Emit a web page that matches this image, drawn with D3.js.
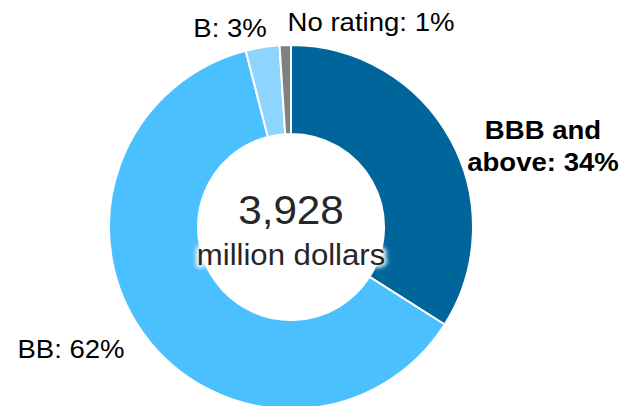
<!DOCTYPE html>
<html>
<head>
<meta charset="utf-8">
<script src="https://cdn.jsdelivr.net/npm/d3@7"></script>
<style>
  html, body { margin: 0; padding: 0; background: #fff; }
  svg { display: block; }
</style>
</head>
<body>
<svg id="chart" width="627" height="406"></svg>
<script>
// Rating breakdown of the portfolio (share of total, %)
const categories = ["BBB and above", "BB", "B", "No rating"];
const shares = [34, 62, 3, 1];
const colors = ["#00659B", "#4BC0FF", "#8DD4FF", "#808080"];
const totalLabel = "3,928";
const unitLabel = "million dollars";

const W = 627, H = 406;
const cx = 291, cy = 227;
const outerR = 182, innerR = 93;
const stretch = 1.06; // horizontal widening of the label type

const svg = d3.select("#chart");

// Soft white halo used behind the unit text where it overlaps the ring
const defs = svg.append("defs");
const glow = defs.append("filter").attr("id", "halo")
  .attr("x", "-20%").attr("y", "-40%").attr("width", "140%").attr("height", "180%");
glow.append("feGaussianBlur").attr("stdDeviation", 2);

const pie = d3.pie().sort(null).value(d => d.value);
const arc = d3.arc().innerRadius(innerR).outerRadius(outerR);

const data = categories.map((c, i) => ({ name: c, value: shares[i], color: colors[i] }));

const g = svg.append("g").attr("transform", `translate(${cx},${cy})`);
g.selectAll("path.slice")
  .data(pie(data))
  .join("path")
  .attr("class", "slice")
  .attr("d", arc)
  .attr("fill", d => d.data.color)
  .attr("stroke", "#fff")
  .attr("stroke-width", 2)
  .attr("stroke-linejoin", "round");

// Labels: text per slice, placed around the ring
const labelLayout = [
  { lines: ["BBB and", "above: " + shares[0] + "%"], x: 543, y: 139, bold: true, lh: 32 },
  { lines: ["BB: " + shares[1] + "%"], x: 71, y: 358 },
  { lines: ["B: " + shares[2] + "%"], x: 230, y: 37 },
  { lines: ["No rating: " + shares[3] + "%"], x: 371, y: 31 }
];

labelLayout.forEach(l => {
  const t = svg.append("text")
    .attr("transform", `translate(${l.x},${l.y}) scale(${stretch},1)`)
    .attr("text-anchor", "middle")
    .attr("font-family", "Liberation Sans, Arial, sans-serif")
    .attr("font-size", 26)
    .attr("font-weight", l.bold ? "bold" : "normal")
    .attr("fill", "#000");
  l.lines.forEach((s, i) => {
    t.append("tspan").attr("x", 0).attr("y", i * (l.lh || 0)).text(s);
  });
});

// Centre total
svg.append("text")
  .attr("transform", `translate(${cx},224) scale(1.03,1)`)
  .attr("text-anchor", "middle")
  .attr("font-family", "Liberation Sans, Arial, sans-serif")
  .attr("font-size", 41)
  .attr("fill", "#262626")
  .text(totalLabel);

const unitG = svg.append("g").attr("transform", `translate(${cx},265) scale(1.08,1)`);
unitG.append("text")
  .attr("text-anchor", "middle")
  .attr("font-family", "Liberation Sans, Arial, sans-serif")
  .attr("font-size", 28.8)
  .attr("fill", "#fff")
  .attr("stroke", "#fff")
  .attr("stroke-width", 5)
  .attr("stroke-linejoin", "round")
  .attr("filter", "url(#halo)")
  .text(unitLabel);
unitG.append("text")
  .attr("text-anchor", "middle")
  .attr("font-family", "Liberation Sans, Arial, sans-serif")
  .attr("font-size", 28.8)
  .attr("fill", "#262626")
  .text(unitLabel);
</script>
</body>
</html>
